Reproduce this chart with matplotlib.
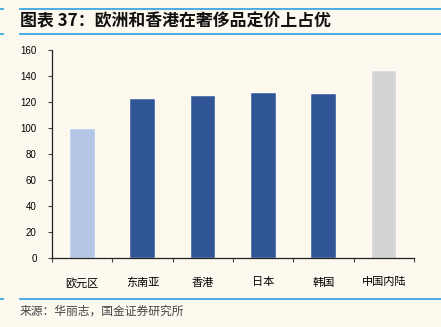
import matplotlib
matplotlib.use('Agg')
import matplotlib.pyplot as plt
import numpy as np

plt.rcParams['font.family'] = ['Noto Sans CJK SC', 'DejaVu Sans']

regions = ['欧元区', '东南亚', '香港', '日本', '韩国', '中国内陆']
price_index = [99, 122, 124.5, 127, 126, 144]
bar_colors = ['#B4C7E7', '#2F5597', '#2F5597', '#2F5597', '#2F5597', '#D3D3D3']
y_ticks = [0, 20, 40, 60, 80, 100, 120, 140, 160]

bg = '#FDF9EF'
line_blue = '#3BA6E0'

fig = plt.figure(figsize=(4.41, 3.27), dpi=100, facecolor=bg)
ax = fig.add_axes([0.118, 0.211, 0.821, 0.636], facecolor=bg)

x = np.arange(len(regions))
ax.bar(x, price_index, width=0.41, color=bar_colors, edgecolor='white', linewidth=0.3)

ax.set_xlim(-0.5, len(regions) - 0.5)
ax.set_ylim(0, 160)
ax.set_yticks(y_ticks)
ax.set_yticklabels([str(v) for v in y_ticks], fontsize=7, family='Liberation Sans')
ax.tick_params(axis='y', direction='out', length=3, width=0.8, color='#444444', pad=8)

# ticks between categories, labels at the centres
ax.set_xticks(np.arange(-0.5, len(regions), 1.0))
ax.set_xticklabels([])
ax.set_xticks(x, minor=True)
ax.set_xticklabels(regions, minor=True, fontsize=8)
ax.tick_params(axis='x', which='major', direction='out', length=3, width=0.8, color='#444444')
ax.tick_params(axis='x', which='minor', length=0, pad=14)

for side in ['top', 'right']:
    ax.spines[side].set_visible(False)
for side in ['left', 'bottom']:
    ax.spines[side].set_color('#222222')
    ax.spines[side].set_linewidth(0.9)

# header and footer rules
for yy in [1 - 8.5 / 327, 1 - 34 / 327, 1 - 299 / 327]:
    fig.add_artist(plt.Line2D([20 / 441, 1], [yy, yy], color=line_blue, lw=1.3))
    fig.add_artist(plt.Line2D([0, 3 / 441], [yy, yy], color=line_blue, lw=1.3))

fig.text(20 / 441, 1 - 21 / 327, '图表 37：欧洲和香港在奢侈品定价上占优',
         fontsize=12.2, fontweight='bold', style='italic', va='center', ha='left', color='#111111')
fig.text(20 / 441, 1 - 311 / 327, '来源：华丽志，国金证券研究所',
         fontsize=8.5, va='center', ha='left', color='#444444')

fig.savefig('out.png', dpi=100, facecolor=bg)
